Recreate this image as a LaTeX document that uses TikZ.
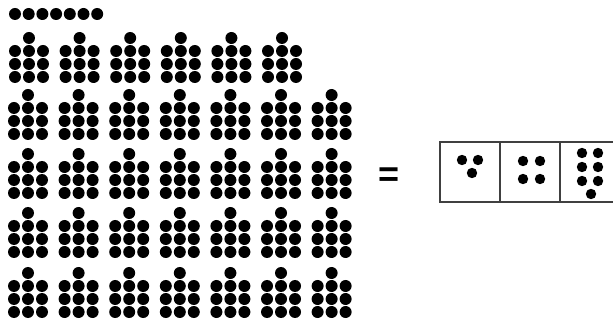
\documentclass[tikz,border=0pt]{standalone}
\usepackage{fontspec}
\setmainfont{Liberation Sans}
\usetikzlibrary{positioning,calc}
\tikzset{
  dotfill/.style={fill=black},
  cellbox/.style={draw=black!75,line width=1.3pt,minimum width=60pt,minimum height=60pt,
    inner sep=0pt,outer sep=0pt},
  eqsign/.style={font=\fontsize{36}{36}\selectfont\bfseries,inner sep=0pt},
  bundle/.pic={
    \fill[dotfill] (0,0) circle (6pt);
    \foreach \r in {1,2,3}
      \foreach \c in {-1,0,1}
        \fill[dotfill] (\c*14,\r*13) circle (6pt);
  }
}

\begin{document}
\begin{tikzpicture}[x=1pt,y=-1pt]
  \useasboundingbox (0,0) rectangle (613,320);
  \foreach \i in {0,...,6}
    \fill[dotfill] (15+13.7*\i,14) circle (6pt);
  \foreach \i in {0,...,5}
    \pic at (29+50.6*\i,38) {bundle};
  \foreach \y in {95,154,213,273}
    \foreach \i in {0,...,6}
      \pic at (28+50.6*\i,\y) {bundle};
  \node[eqsign] (eq) at (389,177) {=};
  \node[cellbox] (c1) at (470,172) {};
  \node[cellbox,right=0pt of c1] (c2) {};
  \node[cellbox,right=0pt of c2] (c3) {};
  \foreach \dx/\dy in {-8/-12,8/-12,2/1}
    \fill[dotfill] ($(c1.center)+(\dx,\dy)$) circle (5.2pt);
  \foreach \dx/\dy in {-7/-11,10/-11,-7/7,10/7}
    \fill[dotfill] ($(c2.center)+(\dx,\dy)$) circle (5.2pt);
  \foreach \dx/\dy in {-8/-19,8/-19,-8/-5,8/-5,-8/9,8/9,1/22}
    \fill[dotfill] ($(c3.center)+(\dx,\dy)$) circle (5.2pt);
\end{tikzpicture}
\end{document}
